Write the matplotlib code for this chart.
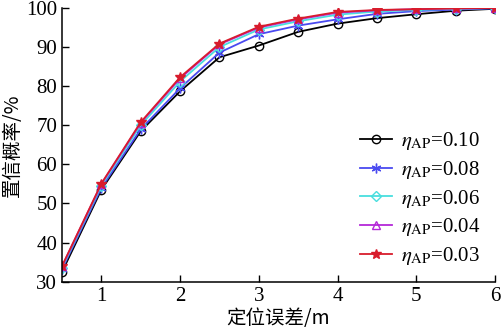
import matplotlib
matplotlib.use('Agg')
import matplotlib.pyplot as plt

# positioning error (m) and confidence probability (%) per eta_AP
error_m = [0.5, 1, 1.5, 2, 2.5, 3, 3.5, 4, 4.5, 5, 5.5, 6]
p_010 = [32.5, 53.5, 68.5, 78.7, 87.4, 90.4, 93.9, 96.0, 97.4, 98.4, 99.3, 99.8]
p_008 = [33.2, 54.0, 69.0, 79.5, 88.6, 93.3, 95.5, 97.1, 98.5, 99.2, 99.6, 99.9]
p_006 = [33.6, 54.6, 70.0, 81.2, 90.0, 94.5, 96.6, 98.3, 99.1, 99.5, 99.8, 100.0]
p_004 = [33.9, 55.0, 70.6, 82.0, 90.7, 95.0, 97.1, 98.8, 99.4, 99.7, 99.9, 100.0]
p_003 = [34.0, 55.1, 70.8, 82.3, 90.9, 95.2, 97.3, 99.0, 99.5, 99.7, 99.9, 100.0]
labels = ['0.10', '0.08', '0.06', '0.04', '0.03']

plt.rcParams['font.family'] = ['Liberation Serif', 'Noto Sans CJK SC']
plt.rcParams['mathtext.fontset'] = 'stix'

fig = plt.figure(figsize=(5.01, 3.34), dpi=100)
ax = fig.add_axes([62 / 501, 1 - 281.7 / 334, 433 / 501, 273.7 / 334])

series = [p_010, p_008, p_006, p_004, p_003]
colors = ['black', '#4a4af0', '#48dede', '#b428d8', '#d81c2c']
markers = ['o', (6, 2, 0), 'D', '^', '*']
sizes = [6, 7, 5, 6, 7]
fills = ['none', '#4a4af0', 'none', 'none', '#d81c2c']

for vals, lab, c, m, s, f in zip(series, labels, colors, markers, sizes, fills):
    ax.plot(error_m, vals, color=c, marker=m, markersize=s, markerfacecolor=f,
            markeredgecolor=c, linewidth=1.3, markeredgewidth=1.0,
            label=r'$\eta_{\rm AP}$=' + lab)

ax.set_xlim(0.5, 6)
ax.set_ylim(30, 100)
ax.set_xticks([1, 2, 3, 4, 5, 6])
ax.set_yticks(range(30, 101, 10))
ax.tick_params(direction='in', labelsize=15, length=5, width=1)
ax.spines['top'].set_visible(False)
ax.spines['right'].set_visible(False)
ax.spines['left'].set_linewidth(1.1)
ax.spines['bottom'].set_linewidth(1.1)

ax.set_xlabel('定位误差/m', fontsize=14, labelpad=2,
              family=['Noto Sans CJK SC', 'Liberation Serif'])
ax.set_ylabel('置信概率/%', fontsize=14, labelpad=2,
              family=['Noto Sans CJK SC', 'Liberation Serif'])

ax.legend(loc='lower right', frameon=False, fontsize=15, handlelength=1.5,
          handletextpad=0.45, labelspacing=0.32, borderaxespad=0.3,
          bbox_to_anchor=(1.0, 0.0))

fig.savefig('out.png', dpi=100)
